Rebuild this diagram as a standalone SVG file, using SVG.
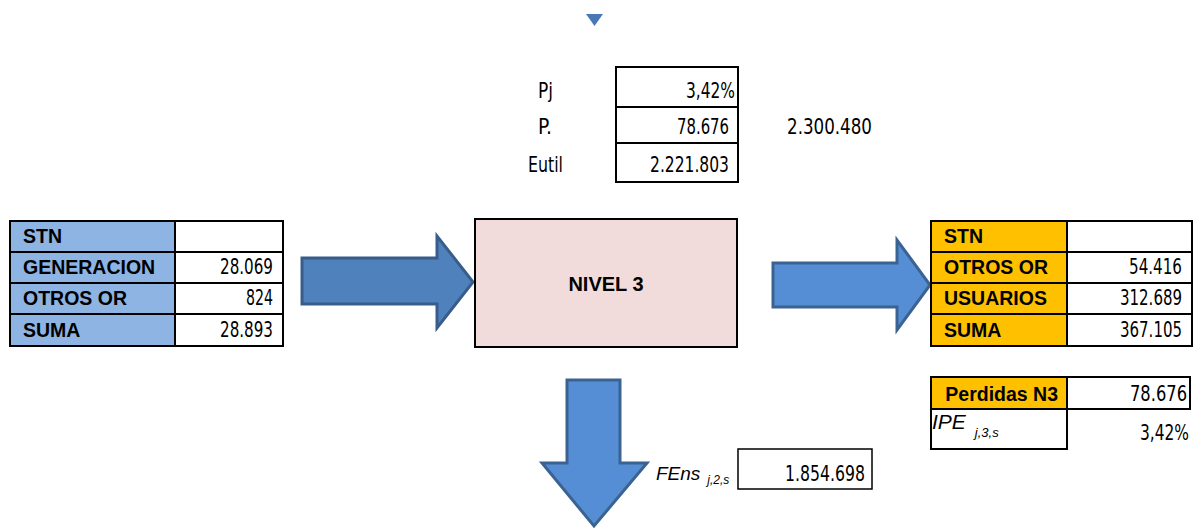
<svg xmlns="http://www.w3.org/2000/svg" width="1202" height="529" viewBox="0 0 1202 529">
<style>
.cell{stroke:#000;stroke-width:2}
.lb{font-family:"Liberation Sans",Arial,sans-serif;font-weight:bold;font-size:19.5px;fill:#000}
.num{font-family:"DejaVu Sans Condensed","DejaVu Sans",sans-serif;font-size:21px;fill:#000}
.it{font-family:"Liberation Sans",Arial,sans-serif;font-style:italic;fill:#000}
.arrD{fill:#4F81BD;stroke:#385D8A;stroke-width:3}
.arrL{fill:#558ED5;stroke:#3A6392;stroke-width:3}
</style>
<rect width="1202" height="529" fill="#fff"/>
<g id="connectors">
<polygon points="586,14 603,14 594.5,26" fill="#4A78B6"/>
<polygon class="arrD" points="302,258 437,258 437,236 473,282 437,328 437,304 302,304"/>
<polygon class="arrL" points="773,263 897,263 897,240 930,285 897,330 897,307 773,307"/>
<polygon class="arrL" points="567,380 620,380 620,463 647,463 594,526 542,463 567,463"/>
</g>
<g id="top-table">
<rect class="cell" x="616" y="67" width="122" height="40" fill="#fff"/>
<rect class="cell" x="616" y="107" width="122" height="36" fill="#fff"/>
<rect class="cell" x="616" y="143" width="122" height="39" fill="#fff"/>
<text class="num" x="538" y="98" textLength="15" lengthAdjust="spacingAndGlyphs">Pj</text>
<text class="num" x="538" y="134" textLength="14" lengthAdjust="spacingAndGlyphs">P.</text>
<text class="num" x="528" y="172" textLength="35" lengthAdjust="spacingAndGlyphs">Eutil</text>
<text class="num" x="686" y="98" textLength="49" lengthAdjust="spacingAndGlyphs">3,42%</text>
<text class="num" x="677" y="134" textLength="52" lengthAdjust="spacingAndGlyphs">78.676</text>
<text class="num" x="650" y="172" textLength="79" lengthAdjust="spacingAndGlyphs">2.221.803</text>
<text class="num" x="787" y="134" textLength="85" lengthAdjust="spacingAndGlyphs">2.300.480</text>
</g>
<g id="left-table">
<rect class="cell" x="10" y="221" width="165" height="31" fill="#8DB4E2"/>
<rect class="cell" x="10" y="252" width="165" height="31" fill="#8DB4E2"/>
<rect class="cell" x="10" y="283" width="165" height="31" fill="#8DB4E2"/>
<rect class="cell" x="10" y="314" width="165" height="32" fill="#8DB4E2"/>
<rect class="cell" x="175" y="221" width="108" height="31" fill="#fff"/>
<rect class="cell" x="175" y="252" width="108" height="31" fill="#fff"/>
<rect class="cell" x="175" y="283" width="108" height="31" fill="#fff"/>
<rect class="cell" x="175" y="314" width="108" height="32" fill="#fff"/>
<text class="lb" x="23" y="243">STN</text>
<text class="lb" x="23" y="274">GENERACION</text>
<text class="lb" x="23" y="305">OTROS OR</text>
<text class="lb" x="23" y="337">SUMA</text>
<text class="num" x="220" y="274" textLength="53" lengthAdjust="spacingAndGlyphs">28.069</text>
<text class="num" x="246" y="305" textLength="27" lengthAdjust="spacingAndGlyphs">824</text>
<text class="num" x="220" y="337" textLength="53" lengthAdjust="spacingAndGlyphs">28.893</text>
</g>
<g id="nivel3">
<rect class="cell" x="475" y="219" width="262" height="128" fill="#F2DCDB"/>
<text class="lb" x="606" y="291" text-anchor="middle" style="font-size:20px">NIVEL 3</text>
</g>
<g id="right-table">
<rect class="cell" x="931" y="221" width="136" height="31" fill="#FFC000"/>
<rect class="cell" x="931" y="252" width="136" height="31" fill="#FFC000"/>
<rect class="cell" x="931" y="283" width="136" height="31" fill="#FFC000"/>
<rect class="cell" x="931" y="314" width="136" height="32" fill="#FFC000"/>
<rect class="cell" x="1067" y="221" width="125" height="31" fill="#fff"/>
<rect class="cell" x="1067" y="252" width="125" height="31" fill="#fff"/>
<rect class="cell" x="1067" y="283" width="125" height="31" fill="#fff"/>
<rect class="cell" x="1067" y="314" width="125" height="32" fill="#fff"/>
<text class="lb" x="944" y="243">STN</text>
<text class="lb" x="944" y="274">OTROS OR</text>
<text class="lb" x="944" y="305">USUARIOS</text>
<text class="lb" x="944" y="337">SUMA</text>
<text class="num" x="1129" y="274" textLength="53" lengthAdjust="spacingAndGlyphs">54.416</text>
<text class="num" x="1120" y="305" textLength="62" lengthAdjust="spacingAndGlyphs">312.689</text>
<text class="num" x="1120" y="337" textLength="62" lengthAdjust="spacingAndGlyphs">367.105</text>
</g>
<g id="perdidas">
<rect class="cell" x="931" y="377" width="136" height="32" fill="#FFC000"/>
<rect class="cell" x="1067" y="377" width="123" height="32" fill="#fff"/>
<rect class="cell" x="931" y="409" width="136" height="40" fill="#fff"/>
<text class="lb" x="1058" y="401" text-anchor="end">Perdidas N3</text>
<text class="num" x="1130" y="401" textLength="57" lengthAdjust="spacingAndGlyphs">78.676</text>
<text class="it" x="932" y="429" font-size="21">IPE<tspan font-size="13" dx="9" dy="8">j,3,s</tspan></text>
<text class="num" x="1140" y="440" textLength="49" lengthAdjust="spacingAndGlyphs">3,42%</text>
</g>
<g id="fens">
<rect x="738" y="449" width="134" height="40" fill="#fff" stroke="#000" stroke-width="1.5"/>
<text class="it" x="656" y="480" font-size="19">FEns<tspan font-size="12" dx="7" dy="4">j,2,s</tspan></text>
<text class="num" x="785" y="481" textLength="80" lengthAdjust="spacingAndGlyphs">1.854.698</text>
</g>
</svg>
